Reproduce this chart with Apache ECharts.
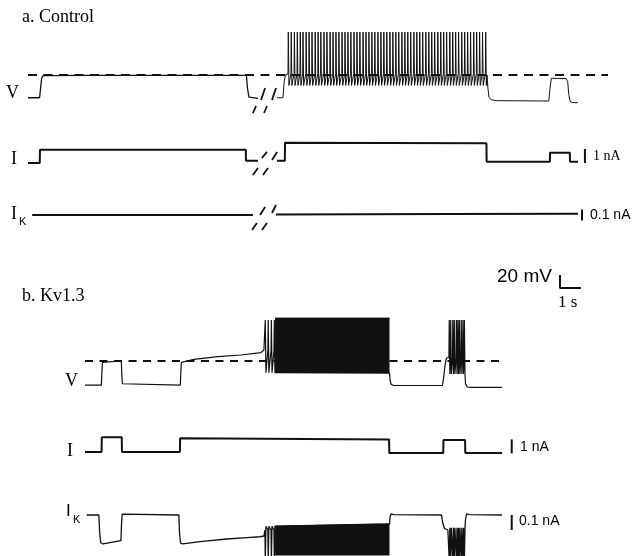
<!DOCTYPE html>
<html><head><meta charset="utf-8">
<script src="https://cdn.jsdelivr.net/npm/echarts@6/dist/echarts.min.js"></script>
<style>html,body{margin:0;padding:0;background:#fff}#c{width:641px;height:556px}</style>
</head><body><div id="c"></div>
<script>
// ===== DATA (time in s, V in mV, currents in nA) =====
// Panel a: Control
const ctrlV_pre = [[0,-85],[0.55,-85],[0.60,-70],[0.65,-55],[0.72,-51],[3,-50.5],[10.40,-50.5],[10.45,-70],[10.52,-84],[10.6,-86],[10.95,-86]];
const ctrlV_post = [[11.86,-85],[12.14,-85],[12.20,-60],[12.26,-50],[12.34,-48]];
const ctrlSpikeTimes = [12.38,12.52,12.67,12.81,12.95,13.08,13.23,13.37,13.51,13.66,13.80,13.93,14.08,14.22,14.37,14.51,14.65,14.79,14.94,15.08,15.22,15.36,15.51,15.65,15.79,15.94,16.08,16.22,16.36,16.50,16.65,16.79,16.93,17.07,17.22,17.36,17.50,17.64,17.79,17.93,18.07,18.21,18.36,18.50,18.64,18.78,18.93,19.07,19.21,19.35,19.50,19.64,19.78,19.92,20.07,20.21,20.35,20.49,20.64,20.78,20.92,21.06,21.21,21.35,21.49,21.63,21.78];
const ctrlSpike = {thr:-48, peak:16, trough:-66};
const ctrlV_tail = [[21.86,-50],[21.90,-70],[21.95,-84],[22.05,-88],[22.3,-89.5],[24.80,-90],[24.86,-70],[24.92,-55],[25.0,-53.5],[25.62,-55.5],[25.70,-60],[25.75,-80],[25.82,-91],[25.95,-92.5],[26.19,-92.5]];
const ctrlDash = [[0,-50],[27.62,-50]];
const ctrlI_pre = [[0,0],[0.56,0],[0.57,0.95],[10.37,0.95],[10.38,0.16],[10.95,0.16]];
const ctrlI_post = [[11.86,0.16],[12.23,0.16],[12.24,1.44],[21.83,1.41],[21.84,0.09],[24.85,0.09],[24.86,0.74],[25.80,0.74],[25.81,0.09],[26.19,0.09]];
const ctrlIK_pre = [[0.2,0],[10.71,0]];
const ctrlIK_post = [[11.81,0.004],[20,0.008],[26.19,0.012]];
// break marks ("//") per trace: [t1,y1,t2,y2]
const ctrlV_breaks = [[11.10,-88.5,11.29,-70],[11.62,-88.5,11.81,-70],[10.71,-108.5,10.86,-97.7],[11.24,-108.5,11.38,-97.7]];
const ctrlI_breaks = [[11.14,0.36,11.38,0.79],[11.62,0.21,11.86,0.79],[10.71,-0.86,10.95,-0.36],[11.19,-0.86,11.43,-0.36]];
const ctrlIK_breaks = [[11.05,0,11.29,0.073],[11.62,0.018,11.81,0.091],[10.67,-0.136,10.90,-0.073],[11.14,-0.136,11.38,-0.073]];

// Panel b: Kv1.3
const kvV_pre = [[0,-87],[0.78,-87],[0.80,-70],[0.83,-52],[0.9,-50],[1.73,-50],[1.75,-70],[1.78,-85],[1.85,-87],[4.54,-87],[4.56,-70],[4.59,-52],[4.65,-50],[5.19,-47.4],[6.33,-43.4],[7.43,-40.8],[8.38,-37.2],[8.52,-33]];
const kvSpikeTimes1 = [8.57,8.71,8.86,9.00];
const kvSpikeTimes2 = [17.33,17.40,17.50,17.57,17.67,17.74,17.81,17.90,17.98,18.05];
const kvV_spike1 = {thr:-33, peak:13, trough:-68};
const kvV_block = [[9.05,16],[14.50,16]];
const kvV_blockBottom = -68.5;
const kvV_mid = [[14.50,-68.5],[14.53,-80],[14.58,-86],[14.7,-87.7],[17.02,-87.7],[17.08,-75],[17.15,-55],[17.22,-45],[17.28,-44]];
const kvV_spike2 = {thr:-45, peak:13, trough:-70};
const kvV_tail = [[18.08,-70],[18.12,-85],[18.2,-90],[18.35,-90.5],[19.86,-90.5]];
const kvDash = [[0,-50],[19.86,-50]];
const kvI = [[0,0],[0.79,0],[0.80,1.05],[1.75,1.05],[1.76,0],[4.52,0],[4.53,0.98],[14.48,0.9],[14.49,-0.08],[17.06,-0.08],[17.07,0.85],[18.10,0.85],[18.11,-0.07],[19.86,-0.07]];
const kvIK_pre = [[0.08,0],[0.66,0],[0.70,-0.12],[0.75,-0.185],[0.85,-0.193],[1.71,-0.171],[1.74,-0.06],[1.77,0.006],[1.85,0.003],[4.47,0],[4.50,-0.12],[4.55,-0.187],[4.65,-0.193],[5.48,-0.178],[6.75,-0.16],[7.71,-0.151],[8.33,-0.145],[8.52,-0.14]];
const kvIK_spike1 = {thr:-0.1, peak:-0.3, trough:-0.075};
const kvIK_block = [[9.05,-0.075],[14.50,-0.06]];
const kvIK_blockBottom = -0.27;
const kvIK_mid = [[14.50,-0.06],[14.53,-0.01],[14.57,0.007],[14.7,0.002],[16.98,0],[17.03,-0.05],[17.12,-0.09],[17.28,-0.1]];
const kvIK_spike2 = {thr:-0.09, peak:-0.3, trough:-0.085};
const kvIK_tail = [[18.08,-0.09],[18.12,-0.03],[18.17,0.007],[18.3,0.002],[19.86,0]];

// scale bars
const ctrlIbar = [[26.52,0],[26.52,1]];
const ctrlIKbar = [[26.38,-0.05],[26.38,0.05]];
const kvIbar = [[20.32,-0.1],[20.32,0.9]];
const kvIKbar = [[20.32,-0.1],[20.32,0]];
const scaleBar = [[0,20],[0,0],[1,0]]; // 20 mV, 1 s

// ===== BUILD =====
function spikeTrain(times, s){ const p=[]; times.forEach(t=>{p.push([t,s.thr],[t+0.015,s.peak],[t+0.045,s.trough]);}); return p; }
function segs(list){ return list.map(s=>({coords:[[s[0],s[1]],[s[2],s[3]]]})); }
const K = '#111';
function line(g, data, w, extra){ return Object.assign({type:'line', xAxisIndex:g, yAxisIndex:g, data, symbol:'none', silent:true, animation:false, lineStyle:{color:K, width:w}}, extra||{}); }
function lines(g, data, w){ return {type:'lines', coordinateSystem:'cartesian2d', xAxisIndex:g, yAxisIndex:g, data, silent:true, animation:false, lineStyle:{color:K, width:w, opacity:1}}; }
function bar(g, data, w){ return line(g, data, w); }

const grids = [
  {left:28, top:23, width:588, height:91},
  {left:28, top:135, width:588, height:42},
  {left:28, top:193, width:588, height:44},
  {left:85, top:309, width:441, height:91},
  {left:85, top:424, width:441, height:42},
  {left:85, top:500, width:441, height:55.5},
  {left:560, top:275, width:21, height:13}
];
const xr = [[0,28],[0,28],[0,28],[0,21],[0,21],[0,21],[0,1]];
const yr = [[-110,30],[-1,2],[-0.2,0.2],[-110,30],[-1,2],[-0.27,0.1],[0,20]];

const ctrlVpost = ctrlV_post.concat(spikeTrain(ctrlSpikeTimes, ctrlSpike), ctrlV_tail);
const kvV = kvV_pre.concat(spikeTrain(kvSpikeTimes1, kvV_spike1), kvV_mid, spikeTrain(kvSpikeTimes2, kvV_spike2), kvV_tail);
const kvIK = kvIK_pre.concat(spikeTrain(kvSpikeTimes1, kvIK_spike1), kvIK_mid, spikeTrain(kvSpikeTimes2, kvIK_spike2), kvIK_tail);

const serif = '"Liberation Serif", "DejaVu Serif", serif';
const sans = '"Liberation Sans", Arial, sans-serif';
function txt(text, x, y, size, fam){ return {type:'text', x, y, silent:true, style:{text, fill:'#000', font:size+'px '+fam, verticalAlign:'middle', align:'left'}}; }

const option = {
  backgroundColor:'#fff',
  animation:false,
  grid: grids,
  xAxis: grids.map((g,i)=>({gridIndex:i, type:'value', min:xr[i][0], max:xr[i][1], show:false})),
  yAxis: grids.map((g,i)=>({gridIndex:i, type:'value', min:yr[i][0], max:yr[i][1], show:false})),
  series: [
    line(0, ctrlV_pre, 1.3),
    line(0, ctrlVpost, 1),
    line(0, ctrlDash, 2, {lineStyle:{color:K, width:2, type:[9,6.5]}}),
    lines(0, segs(ctrlV_breaks), 1.8),
    line(1, ctrlI_pre, 2),
    line(1, ctrlI_post, 2),
    lines(1, segs(ctrlI_breaks), 1.8),
    bar(1, ctrlIbar, 2),
    line(2, ctrlIK_pre, 2),
    line(2, ctrlIK_post, 2),
    lines(2, segs(ctrlIK_breaks), 1.8),
    bar(2, ctrlIKbar, 2),
    line(3, kvV, 1.2),
    line(3, kvV_block, 1, {areaStyle:{color:K, opacity:1, origin:kvV_blockBottom}}),
    line(3, kvDash, 2, {lineStyle:{color:K, width:2, type:[8,6.5]}}),
    line(4, kvI, 2),
    bar(4, kvIbar, 2),
    line(5, kvIK, 1.3),
    line(5, kvIK_block, 1, {areaStyle:{color:K, opacity:1, origin:kvIK_blockBottom}}),
    bar(5, kvIKbar, 2),
    line(6, scaleBar, 2)
  ],
  graphic: [
    txt('a. Control', 22, 17, 18, serif),
    txt('V', 6, 93, 18, serif),
    txt('I', 11, 159, 18, serif),
    txt('I', 11, 214, 18, serif),
    txt('K', 19, 222, 11, sans),
    txt('1 nA', 593, 156, 14, serif),
    txt('0.1 nA', 590, 215, 14, sans),
    txt('20 mV', 497, 277, 19, sans),
    txt('1 s', 558, 303, 17, serif),
    txt('b. Kv1.3', 22, 296, 18, serif),
    txt('V', 65, 381, 18, serif),
    txt('I', 67, 451, 18, serif),
    txt('I', 66, 511, 17, sans),
    txt('K', 73, 520, 11, sans),
    txt('1 nA', 520, 447, 14, sans),
    txt('0.1 nA', 519, 521, 14, sans)
  ]
};
const chart = echarts.init(document.getElementById('c'), null, {renderer:'canvas'});
chart.setOption(option);
</script></body></html>
